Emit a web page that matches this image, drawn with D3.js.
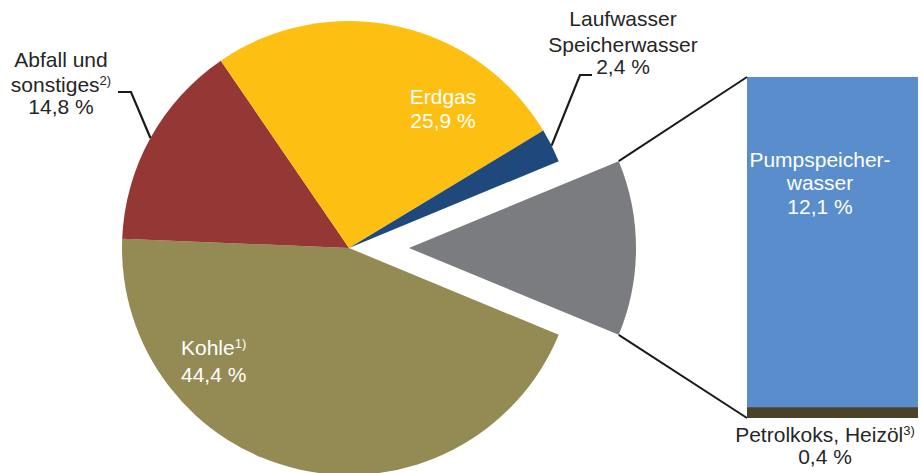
<!DOCTYPE html>
<html>
<head>
<meta charset="utf-8">
<script src="https://cdn.jsdelivr.net/npm/d3@7"></script>
<style>
  body { margin: 0; background: #fff; }
  svg { display: block; font-family: 'Liberation Sans', Arial, sans-serif; }
</style>
</head>
<body>
<script>
// Pie shares (%), drawn clockwise starting with the exploded slice
const sliceKeys = ['Pumpspeicher', 'Kohle', 'Abfall', 'Erdgas', 'Lauf']
const sliceValues = [12.5, 44.4, 14.8, 25.9, 2.4]
const sliceColors = ['#7b7c80', '#948a54', '#953735', '#fdc012', '#1f497d']

// Breakdown of the exploded slice, stacked bottom to top
const barKeys = ['Petrolkoks', 'Pumpspeicher']
const barValues = [0.4, 12.1]
const barColors = ['#4a4329', '#5a8dcb']

const width = 921
const height = 473

const svg = d3.select('body')
  .append('svg')
  .attr('width', width)
  .attr('height', height)

const cx = 349
const cy = 248
const radius = 227
const explode = 60

const pie = d3.pie()
  .sort(null)
  .value(d => d.value)
  .startAngle(Math.PI * 3 / 8)
  .endAngle(Math.PI * 3 / 8 + 2 * Math.PI)

const arcs = pie(sliceKeys.map((k, i) => ({ key: k, value: sliceValues[i], color: sliceColors[i] })))
const arc = d3.arc().innerRadius(0).outerRadius(radius)

const g = svg.append('g').attr('transform', `translate(${cx}, ${cy})`)

g.selectAll('path')
  .data(arcs)
  .join('path')
  .attr('d', arc)
  .attr('fill', d => d.data.color)
  .attr('transform', (d, i) => {
    if (i !== 0) return null
    const mid = (d.startAngle + d.endAngle) / 2
    return `translate(${Math.sin(mid) * explode}, ${-Math.cos(mid) * explode})`
  })

// Bar of pie
const barX = 747
const barW = 171
const yScale = d3.scaleLinear()
  .domain([0, d3.sum(barValues)])
  .range([418, 77])

let acc = 0
const stack = barValues.map((v, i) => {
  const seg = { key: barKeys[i], y0: acc, y1: acc + v, color: barColors[i] }
  acc += v
  return seg
})

svg.selectAll('rect.bar')
  .data(stack)
  .join('rect')
  .attr('class', 'bar')
  .attr('x', barX)
  .attr('width', barW)
  .attr('y', d => yScale(d.y1))
  .attr('height', d => yScale(d.y0) - yScale(d.y1))
  .attr('fill', d => d.color)

// Connector lines from exploded slice to the bar
const ex = arcs[0]
const exOff = (ex.startAngle + ex.endAngle) / 2
const exCx = cx + Math.sin(exOff) * explode
const exCy = cy - Math.cos(exOff) * explode
const corner = a => [exCx + Math.sin(a) * radius, exCy - Math.cos(a) * radius]

const [tx, ty] = corner(ex.startAngle)
const [bx, by] = corner(ex.endAngle)
svg.append('line')
  .attr('x1', tx).attr('y1', ty)
  .attr('x2', barX).attr('y2', yScale(d3.sum(barValues)))
  .attr('stroke', '#1a1a1a').attr('stroke-width', 2)
svg.append('line')
  .attr('x1', bx).attr('y1', by)
  .attr('x2', barX).attr('y2', yScale(0))
  .attr('stroke', '#1a1a1a').attr('stroke-width', 2)

// Leader lines
function edgePoint(d) {
  const mid = (d.startAngle + d.endAngle) / 2
  return [cx + Math.sin(mid) * radius, cy - Math.cos(mid) * radius]
}
const line = d3.line()
const abf = edgePoint(arcs[2])
svg.append('path')
  .attr('d', line([[118, 92], [131, 92], abf]))
  .attr('fill', 'none').attr('stroke', '#1a1a1a').attr('stroke-width', 2.2)
const lauf = edgePoint(arcs[4])
svg.append('path')
  .attr('d', line([[592, 75], [580, 75], lauf]))
  .attr('fill', 'none').attr('stroke', '#1a1a1a').attr('stroke-width', 2.2)

// Labels
const fs = 21
function label(x, y, lines, color, anchor = 'middle') {
  const t = svg.append('text')
    .attr('x', x).attr('y', y)
    .attr('text-anchor', anchor)
    .attr('font-size', fs)
    .attr('fill', color)
  lines.forEach((l, i) => {
    const ts = t.append('tspan')
      .attr('x', x)
      .attr('y', y + l.dy)
      .text(l.text)
    if (l.sup) {
      ts.append('tspan')
        .attr('font-size', 13)
        .attr('dy', -7)
        .text(l.sup)
    }
  })
}

label(61, 67, [
  { text: 'Abfall und', dy: 0 },
  { text: 'sonstiges', sup: '2)', dy: 25 },
  { text: '14,8 %', dy: 47 }
], '#262626')

label(623, 26, [
  { text: 'Laufwasser', dy: 0 },
  { text: 'Speicherwasser', dy: 26 },
  { text: '2,4 %', dy: 48 }
], '#262626')

label(443, 104, [
  { text: 'Erdgas', dy: 0 },
  { text: '25,9 %', dy: 24 }
], '#ffffff')

label(181, 355, [
  { text: 'Kohle', sup: '1)', dy: 0 },
  { text: '44,4 %', dy: 27 }
], '#ffffff', 'start')

label(820, 167, [
  { text: 'Pumpspeicher-', dy: 0 },
  { text: 'wasser', dy: 23 },
  { text: '12,1 %', dy: 47 }
], '#ffffff')

label(825, 442, [
  { text: 'Petrolkoks, Heizöl', sup: '3)', dy: 0 },
  { text: '0,4 %', dy: 22 }
], '#262626')
</script>
</body>
</html>
